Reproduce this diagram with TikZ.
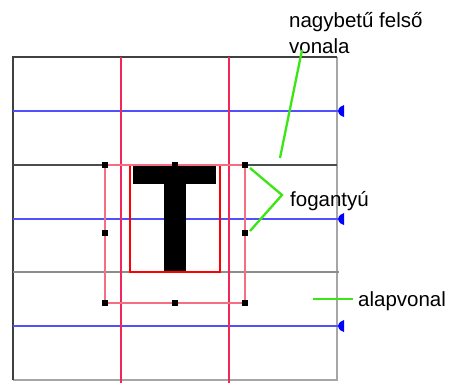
\documentclass[tikz,border=0pt]{standalone}
\usepackage{fontspec}
\setmainfont{Liberation Sans}
\definecolor{gblue}{RGB}{80,80,255}
\definecolor{gred}{RGB}{240,40,90}
\definecolor{gpink}{RGB}{245,110,130}
\definecolor{cgreen}{RGB}{60,230,20}
\begin{document}
\begin{tikzpicture}[x=1pt,y=-1pt,
  guideblue/.style={draw=gblue, line width=1.4pt},
  guidered/.style={draw=gred, line width=1.1pt},
  bbox/.style={draw=gpink, line width=1.2pt},
  handle/.style={fill=black, minimum size=6pt, inner sep=0pt, draw=none, rectangle},
  callout/.style={draw=cgreen, line width=2.3pt},
  lbl/.style={font=\fontsize{20.5}{26}\selectfont, inner sep=0pt, anchor=base west},
  tip/.style={fill=blue}]
\useasboundingbox (0,0) rectangle (461,383);
% frame
\fill[white] (13,57) rectangle (337,380);
\draw[gray!70, line width=1.2pt] (337,57) -- (337,380) -- (13,380);
\draw[black!75, line width=1.2pt] (13,380) -- (13,57) -- (337,57);
% horizontal guides
\draw[black!70, line width=1.3pt] (13,165) -- (337,165);
\draw[gray!90, line width=1.2pt] (13,272) -- (339,272);
\foreach \yy in {111,219,326}{
  \draw[guideblue] (13,\yy) -- (338,\yy);
  \fill[tip] (338,\yy) .. controls (339,\yy-4) and (341,\yy-5) .. (344,\yy-6) -- (344,\yy+6) .. controls (341,\yy+5) and (339,\yy+4) .. (338,\yy) -- cycle;
}
% red vertical guides
\draw[guidered] (121,57) -- (121,383);
\draw[guidered] (229,57) -- (229,383);
% letter T
\fill[black] (133,165) rectangle (216,184);
\fill[black] (164,184) rectangle (186,272);
% glyph box
\draw[red, line width=1.6pt] (130,165) rectangle (220,272);
% selection box
\node[handle] (h1) at (105,165) {};
\node[handle] (h2) at (175,165) {};
\node[handle] (h3) at (245,165) {};
\node[handle] (h4) at (105,233) {};
\node[handle] (h5) at (245,233) {};
\node[handle] (h6) at (105,303) {};
\node[handle] (h7) at (175,303) {};
\node[handle] (h8) at (245,303) {};
\draw[bbox] (h1.center) -- (h3.center) -- (h8.center) -- (h6.center) -- cycle;
\foreach \hx/\hy in {105/165,175/165,245/165,105/233,245/233,105/303,175/303,245/303}{
  \fill[black] (\hx-3.25,\hy-3.25) rectangle (\hx+3.25,\hy+3.25);
}
% labels
\node[lbl] (cap) at (289,27) {nagybetű felső};
\node[lbl] (cap2) at (289,53) {vonala};
\node[lbl] (fog) at (290,206) {fogantyú};
\node[lbl] (alap) at (358,306) {alapvonal};
\coordinate (capend) at (280,158);
\coordinate (capstart) at (302,50);
\coordinate (fogj) at (282,195);
\coordinate (f1) at (250,168);
\coordinate (f2) at (250,231);
\coordinate (a1) at (313,299);
\coordinate (a2) at (353,299);
\draw[callout] (capstart) -- (capend);
\draw[callout] (f1) -- (fogj) -- (f2);
\draw[callout] (a1) -- (a2);
\end{tikzpicture}
\end{document}
